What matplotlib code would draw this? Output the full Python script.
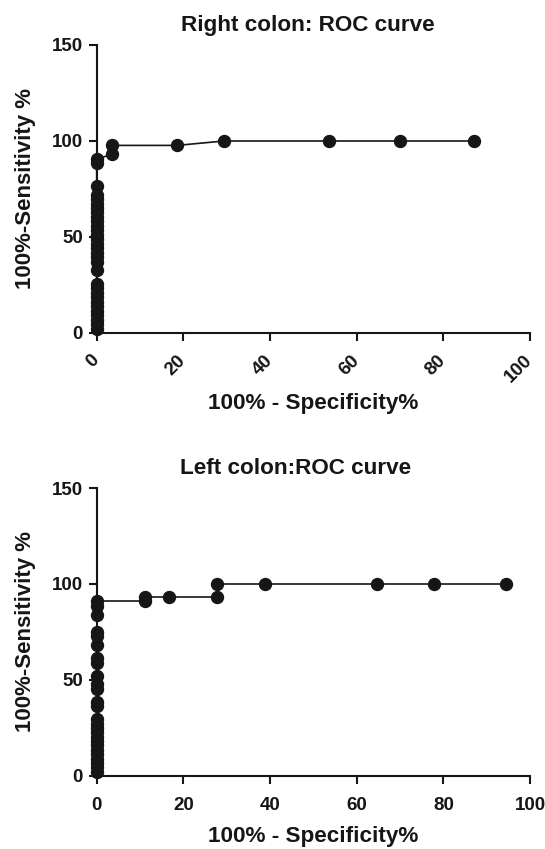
import matplotlib
matplotlib.use("Agg")
import matplotlib.pyplot as plt

# Right colon ROC points (100% - specificity, sensitivity)
right_fpr = [0, 0, 0, 0, 0, 0, 0, 0, 0, 0, 0, 0,
             0, 0, 0, 0, 0, 0, 0, 0, 0, 0, 0, 0, 0, 0, 0, 0, 0,
             0, 0, 3.6, 3.6, 18.5, 29.4, 53.6, 70.0, 87.1]
right_sens = [2.3, 4.7, 7.0, 9.3, 11.6, 14.0, 16.3, 18.6, 20.9, 23.3, 25.6, 32.6,
              37.2, 39.5, 41.9, 44.2, 46.5, 48.8, 51.2, 53.5, 55.8, 58.1, 60.5, 62.8, 65.1, 67.4, 69.8, 72.1, 76.7,
              88.4, 90.7, 93.0, 97.7, 97.7, 100, 100, 100, 100]

# Left colon ROC points
left_fpr = [0, 0, 0, 0, 0, 0, 0, 0, 0, 0, 0, 0, 0, 0, 0, 0, 0,
            0, 0, 0, 0, 0, 0, 0, 0, 0,
            11.1, 11.1, 16.7, 27.8, 27.8, 38.9, 64.7, 77.8, 94.4]
left_sens = [2.3, 4.5, 6.8, 9.1, 11.4, 13.6, 15.9, 18.2, 20.5, 22.7, 25.0, 27.3, 29.5, 36.4, 38.6, 45.5, 47.7,
             52.3, 59.1, 61.4, 68.2, 72.7, 75.0, 84.1, 88.6, 90.9,
             90.9, 93.2, 93.2, 93.2, 100, 100, 100, 100, 100]

x_ticks = [0, 20, 40, 60, 80, 100]
y_ticks = [0, 50, 100, 150]

plt.rcParams["font.family"] = ["Liberation Sans", "DejaVu Sans"]
plt.rcParams["font.weight"] = "bold"

ink = "#161616"

fig = plt.figure(figsize=(5.45, 8.49), dpi=100)
ax1 = fig.add_axes([0.1774, 0.6078, 0.7951, 0.3392])
ax2 = fig.add_axes([0.1774, 0.0860, 0.7951, 0.3392])


def roc_panel(ax, fpr, sens, title, title_x, rotate):
    ax.plot(fpr, sens, "-o", color=ink, lw=1.2, ms=8.6, clip_on=False, zorder=5)
    ax.set_xlim(0, 100)
    ax.set_ylim(0, 150)
    ax.set_xticks(x_ticks)
    ax.set_yticks(y_ticks)
    for side in ["top", "right"]:
        ax.spines[side].set_visible(False)
    for side in ["left", "bottom"]:
        ax.spines[side].set_linewidth(1.5)
        ax.spines[side].set_color(ink)
    ax.tick_params(width=1.5, length=6, color=ink, labelsize=13.5, labelcolor=ink, pad=4)
    if rotate:
        # top panel has slanted tick labels
        plt.setp(ax.get_xticklabels(), rotation=45, ha="right", va="center", rotation_mode="anchor")
        ax.tick_params(axis="x", pad=12)
        xpad = 5
    else:
        ax.tick_params(axis="x", pad=9)
        xpad = 9
    ax.set_title(title, fontsize=16.2, fontweight="bold", color=ink, pad=10, x=title_x)
    ax.set_xlabel("100% - Specificity%", fontsize=16.2, fontweight="bold", color=ink, labelpad=xpad)
    ax.set_ylabel("100%-Sensitivity %", fontsize=16, fontweight="bold", color=ink, labelpad=11)


roc_panel(ax1, right_fpr, right_sens, "Right colon: ROC curve", 0.487, True)
roc_panel(ax2, left_fpr, left_sens, "Left colon:ROC curve", 0.458, False)

fig.savefig("out.png", dpi=100)
